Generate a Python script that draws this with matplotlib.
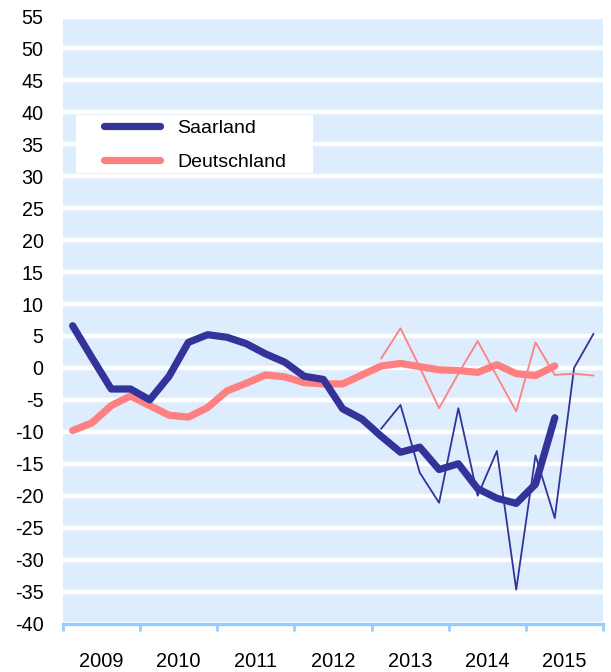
import numpy as np
import matplotlib
matplotlib.use("Agg")
import matplotlib.pyplot as plt
from matplotlib.patches import Rectangle

plt.rcParams['font.family'] = ['Liberation Sans', 'DejaVu Sans']

years = ['2009', '2010', '2011', '2012', '2013', '2014', '2015']

# quarterly trend lines, 2009Q1 .. 2015Q2
saar_trend = [6.6, 1.6, -3.3, -3.3, -5.0, -1.3, 4.0, 5.2, 4.8, 3.8, 2.2, 0.9,
              -1.3, -1.8, -6.4, -8.0, -10.7, -13.2, -12.4, -15.9, -15.0, -18.9,
              -20.4, -21.2, -18.2, -7.8]
de_trend = [-9.8, -8.6, -5.9, -4.4, -5.9, -7.4, -7.7, -6.2, -3.6, -2.4, -1.1, -1.4,
            -2.3, -2.5, -2.5, -1.1, 0.3, 0.7, 0.2, -0.3, -0.4, -0.7,
            0.5, -0.9, -1.2, 0.3]

# quarterly values, 2013Q1 .. 2015Q4
saar_q = [-9.5, -5.8, -16.4, -21.1, -6.3, -20.0, -13.0, -34.7, -13.7, -23.5, 0.0, 5.3]
de_q = [1.5, 6.2, 0.1, -6.3, -0.9, 4.2, -1.3, -6.8, 4.0, -1.1, -0.9, -1.2]

BLUE = '#333399'
PINK = '#ff8080'
BAND = '#ddedfd'
AXIS = '#99ccff'

fig = plt.figure(figsize=(6.11, 6.72), dpi=100, facecolor='white')
ax = fig.add_axes([63 / 611, 48.5 / 672, 540 / 611, 607 / 672])
ax.set_facecolor(BAND)

x_trend = np.arange(len(saar_trend)) + 0.5
x_q = np.arange(16, 16 + len(saar_q)) + 0.5

ax.plot(x_q, saar_q, color=BLUE, lw=1.3, zorder=3)
ax.plot(x_q, de_q, color=PINK, lw=1.3, zorder=3)
ax.plot(x_trend, de_trend, color=PINK, lw=5.2, solid_capstyle='round',
        solid_joinstyle='round', zorder=4, label='Deutschland')
ax.plot(x_trend, saar_trend, color=BLUE, lw=5.2, solid_capstyle='round',
        solid_joinstyle='round', zorder=5, label='Saarland')

ax.set_xlim(0, 28)
ax.set_ylim(-40, 55)

yt = np.arange(-40, 56, 5)
ax.set_yticks(yt)
ax.set_yticklabels([str(v) for v in yt], fontsize=14.2)
ax.tick_params(axis='y', length=0, pad=14)
ax.grid(axis='y', color='white', lw=3.2)
ax.set_axisbelow(True)

ax.set_xticks(np.arange(0, 29, 4))
ax.set_xticklabels([])
ax.set_xticks(np.arange(2, 28, 4), minor=True)
ax.set_xticklabels(years, minor=True, fontsize=14.4)
ax.tick_params(axis='x', which='major', length=5, width=2, color=AXIS, direction='out')
ax.tick_params(axis='x', which='minor', length=0, pad=20.5)

for s in ['left', 'right', 'top']:
    ax.spines[s].set_visible(False)
ax.spines['bottom'].set_color(AXIS)
ax.spines['bottom'].set_linewidth(2.4)

# white legend area
ax.add_patch(Rectangle((0.024, 0.742), 0.439, 0.0955, transform=ax.transAxes,
                       facecolor='white', edgecolor='none', zorder=1))
h, l = ax.get_legend_handles_labels()
ax.legend(h[::-1], l[::-1], loc='upper left', bbox_to_anchor=(0.075, 0.830),
          frameon=False, fontsize=14, handlelength=2.88, handletextpad=0.92,
          labelspacing=0.82, borderpad=0, borderaxespad=0)

fig.savefig('out.png', dpi=100, facecolor='white')
